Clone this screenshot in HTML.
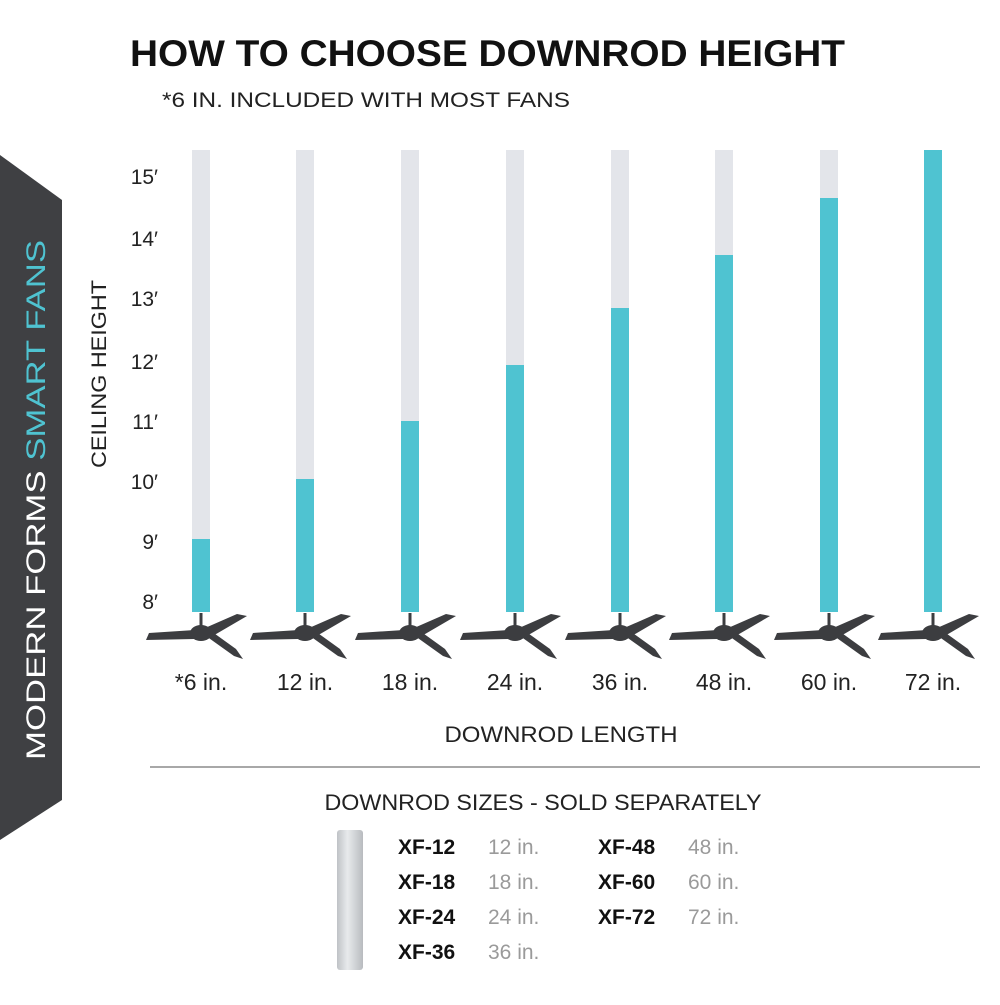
<!DOCTYPE html>
<html><head><meta charset="utf-8"><style>
body{margin:0;width:1000px;height:1000px;background:#fff;overflow:hidden;font-family:"Liberation Sans",sans-serif;}
</style></head><body>
<svg width="1000" height="1000" xmlns="http://www.w3.org/2000/svg" font-family="Liberation Sans, sans-serif">
<defs>
<g id="fan" fill="#3c3d40">
<rect x="-1.5" y="-20" width="3" height="14"/>
<ellipse cx="0" cy="0" rx="11" ry="8"/>
<path d="M-6,-3 L-52,0 L-55,7 L-6,6 Z"/>
<path d="M4,-5 L36,-19 L46,-17 L10,4 Z"/>
<path d="M5,3 L33,23 L42,26 L35,16 L10,-2 Z"/>
</g>
<linearGradient id="tube" x1="0" x2="1"><stop offset="0" stop-color="#bfc2c6"/><stop offset="0.4" stop-color="#e8eaec"/><stop offset="0.7" stop-color="#d0d3d6"/><stop offset="1" stop-color="#b8bbbf"/></linearGradient>
</defs>
<text x="130" y="66" font-size="37" font-weight="bold" fill="#111" textLength="715" lengthAdjust="spacingAndGlyphs">HOW TO CHOOSE DOWNROD HEIGHT</text>
<text x="162" y="107" font-size="21" fill="#222" textLength="408" lengthAdjust="spacingAndGlyphs">*6 IN. INCLUDED WITH MOST FANS</text>
<polygon points="0,155 62,200 62,800 0,840" fill="#3f4043"/>
<text transform="translate(45,760) rotate(-90)" font-size="27" fill="#fff" textLength="520" lengthAdjust="spacingAndGlyphs">MODERN FORMS <tspan fill="#4fc3d1">SMART FANS</tspan></text>
<text transform="translate(106,468) rotate(-90)" font-size="21" fill="#222" textLength="188" lengthAdjust="spacingAndGlyphs">CEILING HEIGHT</text>
<g font-size="21" fill="#222" text-anchor="end">
<text x="158" y="609">8′</text><text x="158" y="549">9′</text><text x="158" y="489">10′</text><text x="158" y="429">11′</text><text x="158" y="369">12′</text><text x="158" y="306">13′</text><text x="158" y="246">14′</text><text x="158" y="184">15′</text>
</g>
<g fill="#e3e5ea">
<rect x="192" y="150" width="18" height="462"/><rect x="296" y="150" width="18" height="462"/><rect x="401" y="150" width="18" height="462"/><rect x="506" y="150" width="18" height="462"/><rect x="611" y="150" width="18" height="462"/><rect x="715" y="150" width="18" height="462"/><rect x="820" y="150" width="18" height="462"/><rect x="924" y="150" width="18" height="462"/>
</g>
<g fill="#4fc3d1">
<rect x="192" y="539" width="18" height="73"/><rect x="296" y="479" width="18" height="133"/><rect x="401" y="421" width="18" height="191"/><rect x="506" y="365" width="18" height="247"/><rect x="611" y="308" width="18" height="304"/><rect x="715" y="255" width="18" height="357"/><rect x="820" y="198" width="18" height="414"/><rect x="924" y="150" width="18" height="462"/>
</g>
<use href="#fan" x="201" y="633"/><use href="#fan" x="305" y="633"/><use href="#fan" x="410" y="633"/><use href="#fan" x="515" y="633"/><use href="#fan" x="620" y="633"/><use href="#fan" x="724" y="633"/><use href="#fan" x="829" y="633"/><use href="#fan" x="933" y="633"/>
<g font-size="23" fill="#222" text-anchor="middle">
<text x="201" y="690">*6 in.</text><text x="305" y="690">12 in.</text><text x="410" y="690">18 in.</text><text x="515" y="690">24 in.</text><text x="620" y="690">36 in.</text><text x="724" y="690">48 in.</text><text x="829" y="690">60 in.</text><text x="933" y="690">72 in.</text>
<text x="561" y="742" font-size="22" textLength="233" lengthAdjust="spacingAndGlyphs">DOWNROD LENGTH</text>
<text x="543" y="810" font-size="22" textLength="437" lengthAdjust="spacingAndGlyphs">DOWNROD SIZES - SOLD SEPARATELY</text>
</g>
<rect x="150" y="766" width="830" height="2" fill="#a8a8a8"/>
<rect x="337" y="830" width="26" height="140" rx="3" fill="url(#tube)"/>
<g font-size="21" font-weight="bold" fill="#111">
<text x="398" y="854">XF-12</text><text x="398" y="889">XF-18</text><text x="398" y="924">XF-24</text><text x="398" y="959">XF-36</text>
<text x="598" y="854">XF-48</text><text x="598" y="889">XF-60</text><text x="598" y="924">XF-72</text>
</g>
<g font-size="21" fill="#9a9a9a">
<text x="488" y="854">12 in.</text><text x="488" y="889">18 in.</text><text x="488" y="924">24 in.</text><text x="488" y="959">36 in.</text>
<text x="688" y="854">48 in.</text><text x="688" y="889">60 in.</text><text x="688" y="924">72 in.</text>
</g>
</svg>
</body></html>
